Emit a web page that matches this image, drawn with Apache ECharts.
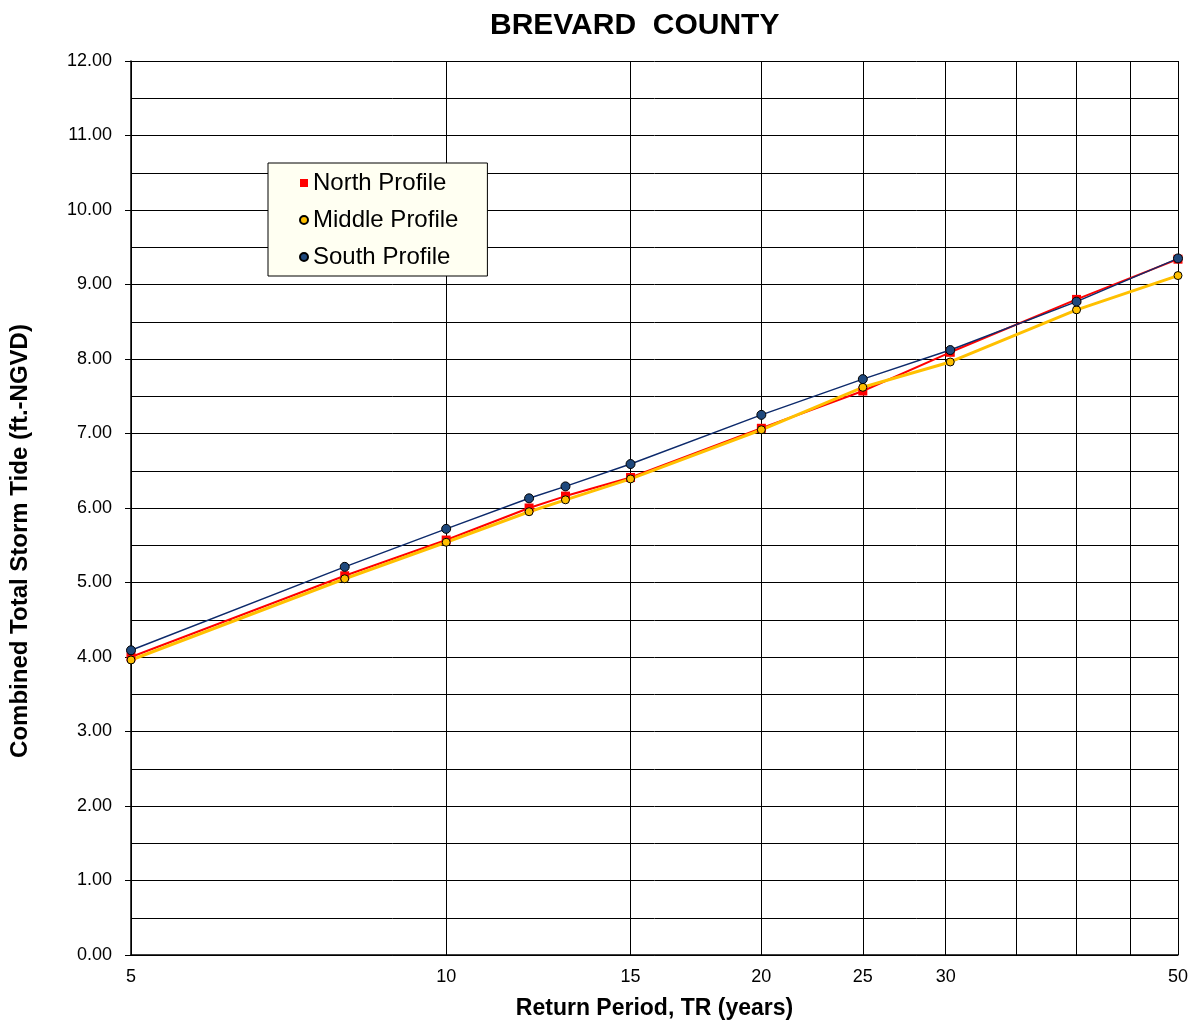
<!DOCTYPE html>
<html>
<head>
<meta charset="utf-8">
<title>Brevard County</title>
<script src="https://cdn.jsdelivr.net/npm/echarts@6/dist/echarts.min.js"></script>
<style>
  html, body { margin: 0; padding: 0; background: #fff; }
  #chart { width: 1200px; height: 1025px; }
</style>
</head>
<body>
<div id="chart"></div>
<script>
// return periods (years) of the plotted points
var returnPeriods = [5, 8, 10, 12, 13, 15, 20, 25, 30.3, 40, 50];
// combined total storm tide, ft-NGVD
var northTide  = [4.00, 5.09, 5.57, 6.00, 6.16, 6.41, 7.07, 7.57, 8.09, 8.80, 9.34];
var middleTide = [3.96, 5.05, 5.54, 5.95, 6.11, 6.39, 7.05, 7.62, 7.96, 8.66, 9.12];
var southTide  = [4.09, 5.21, 5.72, 6.13, 6.29, 6.59, 7.25, 7.73, 8.12, 8.77, 9.35];
// vertical grid lines and x labels
var gridYears  = [5, 10, 15, 20, 25, 30, 35, 40, 45, 50];
var labelYears = [5, 10, 15, 20, 25, 30, 50];

function lg(v) { return Math.log10(v) }
function pairs(ys) {
  return returnPeriods.map(function (t, i) { return [lg(t), ys[i]] })
}

var chart = echarts.init(document.getElementById('chart'))
var font = 'Liberation Sans, Arial, sans-serif'

chart.setOption({
  animation: false,
  textStyle: { fontFamily: font },
  title: {
    text: 'BREVARD  COUNTY',
    left: 485,
    top: 6,
    textStyle: { fontSize: 30, fontWeight: 'bold', color: '#000', fontFamily: font }
  },
  grid: { left: 131, right: 22, top: 61, bottom: 68 },
  legend: {
    orient: 'vertical',
    left: 268,
    top: 163,
    backgroundColor: '#FFFFF2',
    borderColor: '#000',
    borderWidth: 1,
    padding: [8, 29, 7, 31],
    itemGap: 13,
    itemWidth: 8,
    itemHeight: 8,
    textStyle: { fontSize: 24, color: '#000', lineHeight: 24, fontFamily: font },
    data: [
      { name: 'North Profile', icon: 'rect' },
      { name: 'Middle Profile', icon: 'circle' },
      { name: 'South Profile', icon: 'circle' }
    ]
  },
  xAxis: {
    type: 'value',
    min: lg(5),
    max: lg(50),
    name: 'Return Period, TR (years)',
    nameLocation: 'middle',
    nameGap: 42,
    nameTextStyle: { fontSize: 23, fontWeight: 'bold', color: '#000', fontFamily: font },
    axisLine: { show: true, lineStyle: { color: '#000', width: 1.5 } },
    axisTick: { show: false, customValues: gridYears.map(lg) },
    splitLine: { show: true, lineStyle: { color: '#000', width: 1 } },
    axisLabel: {
      customValues: labelYears.map(lg),
      fontSize: 18,
      color: '#000',
      margin: 13,
      formatter: function (v) { return String(Math.round(Math.pow(10, v))) }
    }
  },
  yAxis: {
    type: 'value',
    min: 0,
    max: 12,
    interval: 1,
    name: 'Combined Total Storm Tide (ft.-NGVD)',
    nameLocation: 'middle',
    nameGap: 99,
    nameTextStyle: {
      fontSize: 24, fontWeight: 'bold', color: '#000', fontFamily: font,
      padding: [0, 66, 0, 0]
    },
    axisLine: { show: true, lineStyle: { color: '#000', width: 1.5 } },
    axisTick: { show: true, inside: false, length: 6, lineStyle: { color: '#000' } },
    minorTick: { show: false, splitNumber: 2 },
    minorSplitLine: { show: true, lineStyle: { color: '#000', width: 1 } },
    splitLine: { show: true, lineStyle: { color: '#000', width: 1 } },
    axisLabel: {
      fontSize: 18,
      color: '#000',
      margin: 19,
      formatter: function (v) { return v.toFixed(2) }
    }
  },
  series: [
    {
      name: 'North Profile',
      type: 'line',
      data: pairs(northTide),
      symbol: 'rect',
      symbolSize: 9,
      lineStyle: { color: '#FF0000', width: 2 },
      itemStyle: { color: '#FF0000', borderColor: '#FF0000', borderWidth: 0 }
    },
    {
      name: 'Middle Profile',
      type: 'line',
      data: pairs(middleTide),
      symbol: 'circle',
      symbolSize: 8,
      lineStyle: { color: '#FFC000', width: 3 },
      itemStyle: { color: '#FFC000', borderColor: '#000', borderWidth: 1 }
    },
    {
      name: 'South Profile',
      type: 'line',
      data: pairs(southTide),
      symbol: 'circle',
      symbolSize: 9,
      lineStyle: { color: '#0D2A6B', width: 1.5 },
      itemStyle: { color: '#1F497D', borderColor: '#000', borderWidth: 1 }
    },
    {
      // blue cross drawn inside the north markers
      name: 'North X',
      type: 'scatter',
      data: pairs(northTide),
      symbol: 'path://M0,1.5L1.5,0L10,8.5L8.5,10Z M8.5,0L10,1.5L1.5,10L0,8.5Z',
      symbolSize: 7,
      silent: true,
      itemStyle: { color: '#000080' }
    }
  ]
})
</script>
</body>
</html>
